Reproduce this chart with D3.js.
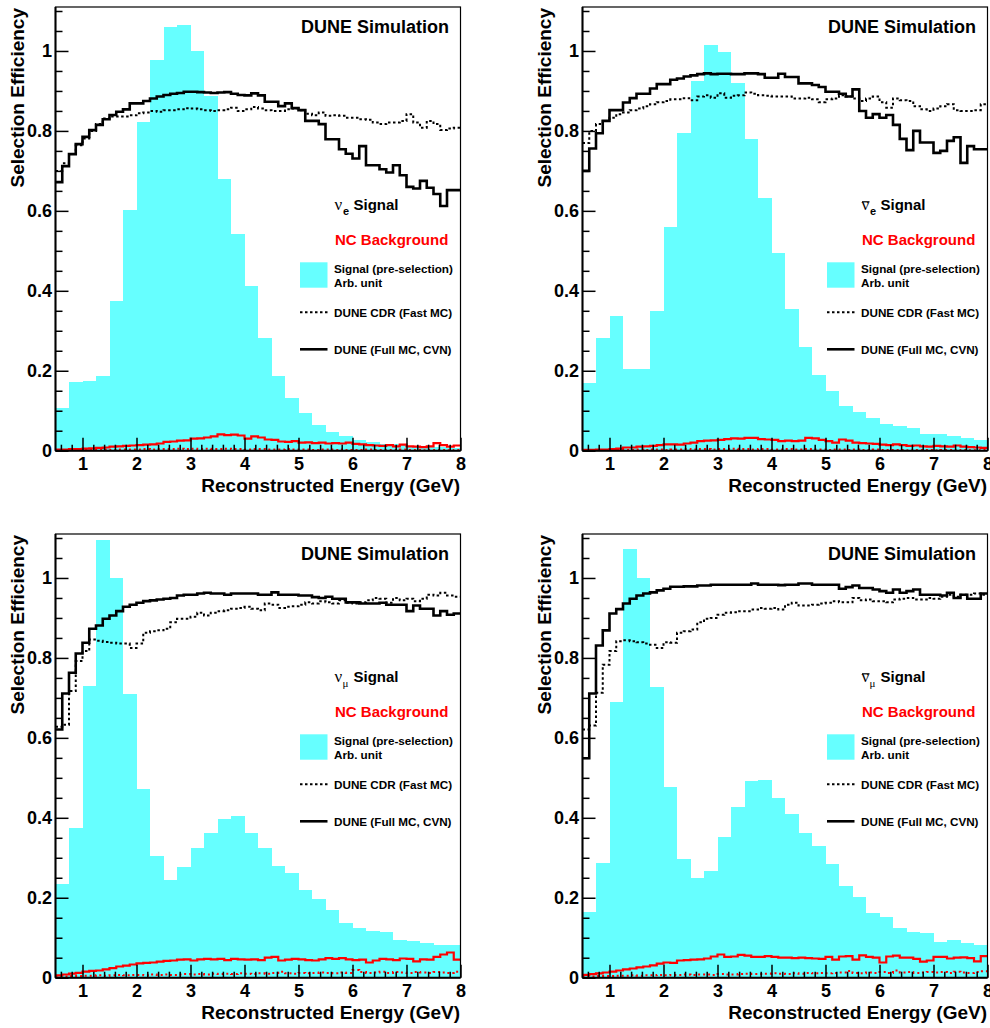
<!DOCTYPE html>
<html><head><meta charset="utf-8">
<script src="https://cdn.jsdelivr.net/npm/d3@7"></script>
<style>
body{margin:0;background:#fff}
svg{display:block;background:#fff}
text{font-family:"Liberation Sans",Arial,Helvetica,sans-serif;font-weight:bold}
</style>
</head><body>
<svg id="c" width="990" height="1028"></svg>
<script>
// ---------- axis ticks ----------
const xMajor = [1,2,3,4,5,6,7,8];
const yMajor = [0,0.2,0.4,0.6,0.8,1];
const yLabels = ["0","0.2","0.4","0.6","0.8","1"];

// ---------- nu_e ----------
const nueCyan = [0.108,0.171,0.174,0.187,0.374,0.601,0.823,0.977,1.061,1.064,1.0,0.888,0.679,0.541,0.412,0.283,0.187,0.133,0.095,0.064,0.046,0.038,0.028,0.023,0.018,0.016,0.013,0.012,0.010,0.008];
const nueCVN = [0.672,0.712,0.742,0.767,0.785,0.802,0.815,0.829,0.840,0.848,0.854,0.869,0.869,0.875,0.881,0.886,0.890,0.893,0.895,0.898,0.898,0.897,0.896,0.895,0.896,0.897,0.893,0.890,0.889,0.894,0.889,0.873,0.873,0.862,0.869,0.857,0.852,0.825,0.825,0.817,0.779,0.779,0.754,0.743,0.731,0.762,0.714,0.714,0.704,0.696,0.714,0.689,0.660,0.656,0.675,0.658,0.642,0.612,0.652,0.652];
const nueCDR = [0.700,0.719,0.742,0.764,0.781,0.800,0.817,0.831,0.836,0.836,0.836,0.839,0.844,0.846,0.850,0.848,0.852,0.852,0.854,0.857,0.856,0.854,0.852,0.850,0.852,0.854,0.858,0.850,0.854,0.860,0.856,0.852,0.850,0.850,0.854,0.856,0.852,0.843,0.839,0.846,0.838,0.839,0.838,0.833,0.833,0.829,0.828,0.821,0.817,0.821,0.821,0.825,0.842,0.821,0.808,0.825,0.817,0.802,0.806,0.808];
const nueNC = [0.003,0.003,0.004,0.004,0.005,0.006,0.007,0.008,0.010,0.011,0.012,0.013,0.014,0.015,0.016,0.018,0.022,0.023,0.025,0.026,0.030,0.031,0.033,0.036,0.041,0.039,0.040,0.038,0.030,0.036,0.033,0.028,0.027,0.023,0.022,0.024,0.020,0.021,0.019,0.020,0.018,0.019,0.018,0.020,0.017,0.016,0.014,0.013,0.012,0.014,0.011,0.015,0.011,0.010,0.009,0.011,0.019,0.014,0.010,0.013];
const nueNCcdr = [0.001,0.001,0.001,0.002,0.002,0.002,0.002,0.003,0.002,0.003,0.003,0.003,0.003,0.004,0.003,0.004,0.004,0.004,0.005,0.004,0.005,0.004,0.005,0.004,0.004,0.005,0.004,0.004,0.003,0.004,0.004,0.003,0.003,0.003,0.004,0.003,0.003,0.003,0.002,0.003,0.003,0.002,0.003,0.002,0.002,0.002,0.003,0.002,0.002,0.002,0.002,0.003,0.002,0.002,0.001,0.002,0.002,0.002,0.001,0.002];

// ---------- anti nu_e ----------
const anueCyan = [0.170,0.281,0.337,0.204,0.205,0.349,0.560,0.794,0.926,1.015,0.998,0.921,0.779,0.631,0.494,0.354,0.260,0.189,0.150,0.113,0.096,0.083,0.068,0.062,0.058,0.043,0.041,0.038,0.031,0.028];
const anueCVN = [0.700,0.756,0.794,0.825,0.852,0.852,0.871,0.882,0.893,0.893,0.906,0.917,0.917,0.928,0.931,0.936,0.939,0.942,0.944,0.942,0.943,0.943,0.942,0.942,0.944,0.944,0.942,0.933,0.933,0.943,0.935,0.935,0.919,0.919,0.915,0.910,0.898,0.898,0.893,0.886,0.904,0.850,0.833,0.842,0.833,0.840,0.815,0.780,0.752,0.800,0.771,0.771,0.745,0.750,0.775,0.784,0.720,0.762,0.754,0.754];
const anueCDR = [0.770,0.800,0.817,0.825,0.833,0.842,0.846,0.852,0.856,0.862,0.867,0.872,0.875,0.879,0.879,0.882,0.877,0.886,0.889,0.883,0.894,0.883,0.888,0.889,0.896,0.893,0.889,0.888,0.886,0.886,0.886,0.881,0.881,0.883,0.879,0.872,0.879,0.881,0.889,0.886,0.881,0.875,0.881,0.886,0.872,0.858,0.881,0.877,0.875,0.862,0.854,0.850,0.856,0.862,0.867,0.852,0.850,0.850,0.852,0.867];
const anueNC = [0.002,0.002,0.003,0.003,0.004,0.005,0.008,0.008,0.010,0.011,0.012,0.014,0.016,0.016,0.015,0.018,0.020,0.024,0.025,0.026,0.027,0.029,0.031,0.030,0.032,0.032,0.029,0.028,0.027,0.024,0.025,0.024,0.025,0.032,0.031,0.027,0.024,0.020,0.028,0.025,0.020,0.019,0.018,0.017,0.015,0.014,0.016,0.014,0.012,0.013,0.011,0.010,0.012,0.011,0.010,0.013,0.010,0.009,0.008,0.007];
const anueNCcdr = [0.001,0.001,0.001,0.001,0.002,0.002,0.002,0.002,0.003,0.002,0.003,0.003,0.002,0.003,0.003,0.004,0.003,0.004,0.004,0.003,0.004,0.004,0.005,0.004,0.004,0.003,0.004,0.004,0.003,0.003,0.004,0.003,0.003,0.004,0.003,0.003,0.002,0.003,0.003,0.002,0.003,0.002,0.002,0.003,0.002,0.002,0.002,0.002,0.001,0.002,0.002,0.002,0.001,0.002,0.002,0.001,0.002,0.001,0.001,0.002];

// ---------- nu_mu ----------
const numuCyan = [0.234,0.374,0.729,1.096,1.0,0.710,0.472,0.305,0.245,0.276,0.324,0.361,0.396,0.405,0.363,0.324,0.280,0.261,0.220,0.196,0.169,0.136,0.124,0.118,0.115,0.094,0.093,0.088,0.082,0.082];
const numuCVN = [0.621,0.711,0.763,0.811,0.838,0.873,0.881,0.898,0.906,0.917,0.928,0.933,0.938,0.942,0.944,0.946,0.948,0.950,0.956,0.958,0.958,0.961,0.963,0.961,0.961,0.958,0.961,0.961,0.961,0.961,0.958,0.958,0.964,0.958,0.958,0.958,0.956,0.956,0.952,0.950,0.953,0.948,0.948,0.939,0.939,0.936,0.936,0.936,0.938,0.933,0.933,0.933,0.917,0.931,0.923,0.923,0.906,0.917,0.908,0.911];
const numuCDR = [0.628,0.633,0.717,0.792,0.817,0.846,0.843,0.840,0.838,0.836,0.836,0.825,0.836,0.863,0.867,0.869,0.873,0.889,0.898,0.898,0.903,0.913,0.906,0.913,0.917,0.919,0.923,0.925,0.928,0.923,0.919,0.936,0.933,0.925,0.928,0.929,0.933,0.939,0.936,0.942,0.939,0.936,0.944,0.938,0.936,0.939,0.944,0.950,0.948,0.938,0.950,0.944,0.948,0.942,0.948,0.958,0.956,0.963,0.956,0.953];
const numuNC = [0.006,0.008,0.010,0.012,0.015,0.017,0.018,0.021,0.024,0.028,0.030,0.033,0.036,0.037,0.038,0.040,0.042,0.043,0.045,0.046,0.043,0.046,0.047,0.046,0.047,0.044,0.047,0.046,0.045,0.046,0.044,0.050,0.052,0.043,0.045,0.047,0.046,0.044,0.043,0.046,0.049,0.047,0.049,0.046,0.044,0.045,0.038,0.043,0.047,0.046,0.044,0.048,0.047,0.041,0.046,0.045,0.052,0.058,0.063,0.045];
const numuNCcdr = [0.003,0.003,0.004,0.004,0.005,0.005,0.006,0.005,0.006,0.007,0.006,0.007,0.007,0.006,0.008,0.007,0.008,0.007,0.008,0.009,0.008,0.009,0.008,0.010,0.009,0.010,0.009,0.011,0.010,0.009,0.011,0.010,0.012,0.015,0.011,0.010,0.012,0.011,0.012,0.013,0.012,0.011,0.013,0.012,0.019,0.014,0.012,0.013,0.015,0.012,0.014,0.013,0.012,0.014,0.013,0.012,0.014,0.013,0.012,0.015];

// ---------- anti nu_mu ----------
const anumuCyan = [0.165,0.286,0.689,1.073,1.0,0.727,0.476,0.297,0.249,0.268,0.351,0.428,0.493,0.495,0.449,0.410,0.361,0.330,0.284,0.230,0.201,0.163,0.153,0.124,0.115,0.111,0.090,0.094,0.086,0.082];
const anumuCVN = [0.549,0.711,0.831,0.869,0.911,0.922,0.936,0.948,0.956,0.961,0.964,0.969,0.973,0.978,0.978,0.979,0.979,0.981,0.981,0.983,0.983,0.983,0.983,0.983,0.983,0.986,0.983,0.983,0.983,0.982,0.983,0.983,0.986,0.986,0.983,0.983,0.983,0.983,0.973,0.977,0.981,0.975,0.975,0.971,0.967,0.963,0.971,0.963,0.967,0.971,0.958,0.958,0.958,0.956,0.963,0.950,0.958,0.948,0.948,0.961];
const anumuCDR = [0.621,0.631,0.713,0.783,0.817,0.842,0.844,0.842,0.839,0.836,0.833,0.825,0.839,0.838,0.863,0.867,0.871,0.889,0.898,0.900,0.908,0.913,0.914,0.917,0.917,0.921,0.925,0.923,0.925,0.921,0.933,0.938,0.931,0.931,0.933,0.936,0.938,0.942,0.939,0.939,0.950,0.944,0.946,0.942,0.942,0.939,0.946,0.948,0.950,0.946,0.946,0.950,0.948,0.953,0.958,0.953,0.958,0.958,0.961,0.958];
const anumuNC = [0.007,0.009,0.011,0.013,0.015,0.018,0.021,0.023,0.026,0.028,0.031,0.035,0.038,0.037,0.043,0.044,0.045,0.046,0.048,0.053,0.058,0.052,0.053,0.057,0.055,0.052,0.052,0.054,0.052,0.050,0.050,0.049,0.050,0.049,0.048,0.047,0.052,0.045,0.053,0.054,0.045,0.056,0.052,0.050,0.038,0.053,0.055,0.050,0.050,0.047,0.040,0.043,0.052,0.052,0.048,0.050,0.051,0.049,0.041,0.054];
const anumuNCcdr = [0.003,0.003,0.004,0.004,0.004,0.005,0.005,0.006,0.005,0.006,0.006,0.007,0.006,0.007,0.007,0.008,0.007,0.008,0.008,0.007,0.009,0.008,0.008,0.009,0.010,0.009,0.009,0.010,0.011,0.010,0.009,0.011,0.010,0.012,0.011,0.012,0.011,0.012,0.013,0.017,0.012,0.011,0.013,0.012,0.014,0.012,0.018,0.013,0.014,0.012,0.013,0.014,0.013,0.014,0.012,0.015,0.013,0.012,0.014,0.016];

const panels = [
  {ox:0,   oy:0,   cyan:nueCyan,   cvn:nueCVN,   cdr:nueCDR,   nc:nueNC,   nccdr:nueNCcdr,   sub:"e", bar:false, legDy:0},
  {ox:527, oy:0,   cyan:anueCyan,  cvn:anueCVN,  cdr:anueCDR,  nc:anueNC,  nccdr:anueNCcdr,  sub:"e", bar:true,  legDy:0},
  {ox:0,   oy:527, cyan:numuCyan,  cvn:numuCVN,  cdr:numuCDR,  nc:numuNC,  nccdr:numuNCcdr,  sub:"μ", bar:false, legDy:-55},
  {ox:527, oy:527, cyan:anumuCyan, cvn:anumuCVN, cdr:anumuCDR, nc:anumuNC, nccdr:anumuNCcdr, sub:"μ", bar:true,  legDy:-55}
];

const CYAN = "#66ffff", RED = "#ff0000";
const svg = d3.select("#c");
svg.append("rect").attr("width",990).attr("height",1028).attr("fill","#fff");
const defs = svg.append("defs");

panels.forEach((p,k)=>{
  const ox=p.ox, oy=p.oy, L=p.legDy;
  const x = d3.scaleLinear().domain([0.5,8]).range([55.5+ox,460.5+ox]);
  const y = d3.scaleLinear().domain([0,1.11]).range([450.7+oy,7+oy]);
  const g = svg.append("g");

  defs.append("clipPath").attr("id","clip"+k).append("rect")
    .attr("x",x(0.5)).attr("y",y(1.11)).attr("width",x(8)-x(0.5)).attr("height",y(0)-y(1.11));
  const plot = g.append("g").attr("clip-path",`url(#clip${k})`);

  // cyan pre-selection histogram (0.25 GeV bins)
  plot.selectAll("rect.bar").data(p.cyan).join("rect").attr("class","bar")
    .attr("x",(d,i)=>x(0.5+i*0.25)).attr("width",(d,i)=>x(0.5+(i+1)*0.25)-x(0.5+i*0.25)+0.3)
    .attr("y",d=>y(d)).attr("height",d=>y(0)-y(d))
    .attr("fill",CYAN).attr("shape-rendering","crispEdges");

  const step = (arr,w)=>arr.flatMap((v,i)=>[[0.5+i*w,v],[0.5+(i+1)*w,v]]);
  const line = d3.line().x(d=>x(d[0])).y(d=>y(d[1]));

  plot.append("path").attr("d",line(step(p.nccdr,0.125))).attr("fill","none")
    .attr("stroke",RED).attr("stroke-width",2).attr("stroke-dasharray","2,3");
  plot.append("path").attr("d",line(step(p.nc,0.125))).attr("fill","none")
    .attr("stroke",RED).attr("stroke-width",2.2);
  plot.append("path").attr("d",line(step(p.cdr,0.125))).attr("fill","none")
    .attr("stroke","#000").attr("stroke-width",2).attr("stroke-dasharray","2.5,2.5");
  plot.append("path").attr("d",line(step(p.cvn,0.125))).attr("fill","none")
    .attr("stroke","#000").attr("stroke-width",2.6);

  // axes
  const styleAxis = a=>{
    a.select(".domain").remove();
    a.attr("font-family","'Liberation Sans',Arial,sans-serif").attr("font-size",18).attr("font-weight","bold");
    a.selectAll("line").attr("stroke","#000").attr("stroke-width",1.5);
  };
  const xMinor = d3.range(0.6,8.0001,0.2).filter(v=>Math.abs(v-Math.round(v))>1e-6);
  const yMinor = d3.range(0.05,1.1001,0.05).filter(v=>Math.abs(v*5-Math.round(v*5))>1e-6);

  g.append("g").attr("transform",`translate(0,${y(0)})`)
    .call(d3.axisBottom(x).tickValues(xMinor).tickSize(-6).tickFormat("")).call(styleAxis);
  g.append("g").attr("transform",`translate(0,${y(0)})`)
    .call(d3.axisBottom(x).tickValues(xMajor).tickSize(-13).tickPadding(7).tickFormat(d3.format("d"))).call(styleAxis);
  g.append("g").attr("transform",`translate(${x(0.5)},0)`)
    .call(d3.axisLeft(y).tickValues(yMinor).tickSize(-7).tickFormat("")).call(styleAxis);
  g.append("g").attr("transform",`translate(${x(0.5)},0)`)
    .call(d3.axisLeft(y).tickValues(yMajor).tickSize(-13).tickPadding(3.5).tickFormat((d,i)=>yLabels[i])).call(styleAxis);

  // frame
  g.append("rect").attr("x",x(0.5)).attr("y",y(1.11)).attr("width",x(8)-x(0.5)).attr("height",y(0)-y(1.11))
    .attr("fill","none").attr("stroke","#000").attr("stroke-width",1.2);
  g.append("line").attr("x1",x(0.5)).attr("x2",x(8)).attr("y1",y(0)).attr("y2",y(0)).attr("stroke","#000").attr("stroke-width",2);
  g.append("line").attr("x1",x(0.5)).attr("x2",x(0.5)).attr("y1",y(0)).attr("y2",y(1.11)).attr("stroke","#000").attr("stroke-width",2);

  // titles
  g.append("text").attr("x",460+ox).attr("y",492+oy).attr("text-anchor","end").attr("font-size",19)
    .text("Reconstructed Energy (GeV)");
  g.append("text").attr("transform",`translate(${24+ox},${8+oy}) rotate(-90)`).attr("text-anchor","end").attr("font-size",19)
    .text("Selection Efficiency");
  g.append("text").attr("x",449+ox).attr("y",33+oy).attr("text-anchor","end").attr("font-size",18)
    .text("DUNE Simulation");

  // signal label
  g.append("text").attr("x",334.5+ox).attr("y",210+oy+L)
    .style("font-family","'Liberation Serif','Times New Roman',serif").style("font-weight","normal").attr("font-size",17).text("ν");
  if (p.bar) g.append("line").attr("x1",335+ox).attr("x2",342.5+ox).attr("y1",201.8+oy+L).attr("y2",201.8+oy+L)
    .attr("stroke","#000").attr("stroke-width",1.2);
  if (p.sub==="e") {
    g.append("text").attr("x",343+ox).attr("y",214.5+oy+L).attr("font-size",11).text("e");
  } else {
    g.append("text").attr("x",342.5+ox).attr("y",214.5+oy+L)
      .style("font-family","'Liberation Serif','Times New Roman',serif").style("font-weight","normal").attr("font-size",11).text("μ");
  }
  g.append("text").attr("x",353.5+ox).attr("y",210+oy+L).attr("font-size",15).text("Signal");
  g.append("text").attr("x",335+ox).attr("y",245+oy+L).attr("font-size",15).attr("fill",RED).text("NC Background");

  // legend
  g.append("rect").attr("x",300+ox).attr("y",262.3+oy+L).attr("width",27.5).attr("height",25.4).attr("fill",CYAN);
  g.append("text").attr("x",334+ox).attr("y",273+oy+L).attr("font-size",11.7).text("Signal (pre-selection)");
  g.append("text").attr("x",334+ox).attr("y",287+oy+L).attr("font-size",11.7).text("Arb. unit");
  g.append("line").attr("x1",300+ox).attr("x2",327.5+ox).attr("y1",312.3+oy+L).attr("y2",312.3+oy+L)
    .attr("stroke","#000").attr("stroke-width",2).attr("stroke-dasharray","2.5,2.5");
  g.append("text").attr("x",334+ox).attr("y",316.5+oy+L).attr("font-size",11.7).text("DUNE CDR (Fast MC)");
  g.append("line").attr("x1",300+ox).attr("x2",327.5+ox).attr("y1",349.3+oy+L).attr("y2",349.3+oy+L)
    .attr("stroke","#000").attr("stroke-width",2.6);
  g.append("text").attr("x",334+ox).attr("y",353.5+oy+L).attr("font-size",11.7).text("DUNE (Full MC, CVN)");
});
</script>
</body></html>
